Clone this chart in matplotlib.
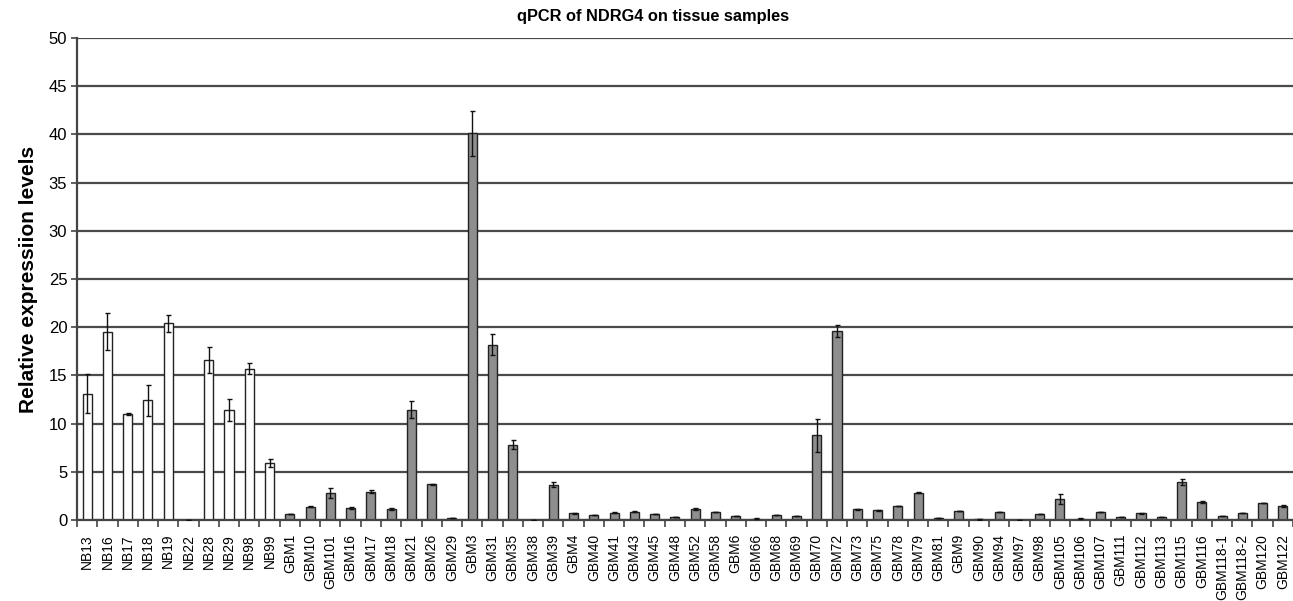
import numpy as np
import matplotlib
matplotlib.use("Agg")
import matplotlib.pyplot as plt

plt.rcParams['font.family'] = ['Liberation Sans', 'DejaVu Sans']

# normal brain samples
nb_labels = ['NB13', 'NB16', 'NB17', 'NB18', 'NB19', 'NB22', 'NB28', 'NB29', 'NB98', 'NB99']
nb_values = [13.1, 19.55, 11.0, 12.4, 20.4, 0.05, 16.6, 11.45, 15.7, 5.9]
nb_errors = [2.0, 1.9, 0.1, 1.6, 0.85, 0.0, 1.3, 1.15, 0.55, 0.45]

# glioblastoma samples
gbm_labels = ['GBM1', 'GBM10', 'GBM101', 'GBM16', 'GBM17', 'GBM18', 'GBM21', 'GBM26', 'GBM29',
              'GBM3', 'GBM31', 'GBM35', 'GBM38', 'GBM39', 'GBM4', 'GBM40', 'GBM41', 'GBM43',
              'GBM45', 'GBM48', 'GBM52', 'GBM58', 'GBM6', 'GBM66', 'GBM68', 'GBM69', 'GBM70',
              'GBM72', 'GBM73', 'GBM75', 'GBM78', 'GBM79', 'GBM81', 'GBM9', 'GBM90', 'GBM94',
              'GBM97', 'GBM98', 'GBM105', 'GBM106', 'GBM107', 'GBM111', 'GBM112', 'GBM113',
              'GBM115', 'GBM116', 'GBM118-1', 'GBM118-2', 'GBM120', 'GBM122']
gbm_values = [0.65, 1.4, 2.8, 1.25, 2.95, 1.1, 11.45, 3.7, 0.25,
              40.1, 18.2, 7.8, 0.05, 3.65, 0.7, 0.52, 0.76, 0.86,
              0.62, 0.31, 1.15, 0.83, 0.42, 0.14, 0.55, 0.42, 8.78,
              19.6, 1.1, 1.0, 1.5, 2.85, 0.25, 0.95, 0.1, 0.82,
              0.04, 0.59, 2.2, 0.14, 0.83, 0.35, 0.7, 0.28,
              3.95, 1.84, 0.45, 0.73, 1.74, 1.5]
gbm_errors = [0.0, 0.05, 0.55, 0.1, 0.2, 0.1, 0.9, 0.05, 0.0,
              2.35, 1.05, 0.45, 0.0, 0.25, 0.05, 0.0, 0.08, 0.05,
              0.0, 0.05, 0.08, 0.05, 0.0, 0.05, 0.0, 0.0, 1.7,
              0.6, 0.05, 0.08, 0.0, 0.1, 0.0, 0.0, 0.05, 0.0,
              0.0, 0.0, 0.5, 0.05, 0.05, 0.0, 0.05, 0.0,
              0.3, 0.1, 0.0, 0.0, 0.0, 0.1]

labels = nb_labels + gbm_labels
values = nb_values + gbm_values
errors = nb_errors + gbm_errors
colors = ['white'] * len(nb_labels) + ['#8e8e8e'] * len(gbm_labels)

x = np.arange(len(labels))

fig = plt.figure(figsize=(12.93, 6.01), dpi=100)
ax = fig.add_axes([77 / 1293, 81 / 601, 1 - 77 / 1293, (520 - 38) / 601])

ax.set_axisbelow(True)
ax.yaxis.grid(True, color='#4a4a4a', linewidth=1.6)
ax.bar(x, values, width=0.45, color=colors, edgecolor='#222222', linewidth=1.0, zorder=2)
ax.errorbar(x, values, yerr=errors, fmt='none', ecolor='#111111', elinewidth=1.0,
            capsize=1.8, capthick=1.0, zorder=3)

ax.set_xlim(-0.5, len(labels) - 0.5)
ax.set_ylim(0, 50)
ax.set_yticks(np.arange(0, 51, 5))
ax.tick_params(axis='y', labelsize=12, length=4, width=1.2, color='#444444', pad=3)

ax.set_xticks(x)
ax.set_xticklabels(labels, rotation=90, fontsize=10)
ax.tick_params(axis='x', which='major', length=0, pad=10)
ax.set_xticks(np.arange(-0.5, len(labels), 1), minor=True)
ax.tick_params(axis='x', which='minor', length=5, width=1.2, color='#444444')

for side in ['top', 'right']:
    ax.spines[side].set_visible(False)
for side in ['left', 'bottom']:
    ax.spines[side].set_color('#444444')
    ax.spines[side].set_linewidth(1.6)

ax.set_ylabel('Relative expressiion levels', fontsize=15, fontweight='bold', labelpad=8)
fig.text(653 / 1293, 1 - 16 / 601, 'qPCR of NDRG4 on tissue samples',
         ha='center', va='center', fontsize=11.8, fontweight='bold')

fig.savefig('out.png', dpi=100)
